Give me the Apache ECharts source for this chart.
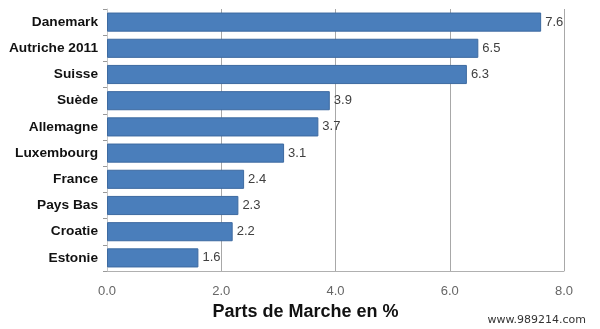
<!DOCTYPE html>
<html><head><meta charset="utf-8">
<script src="https://cdn.jsdelivr.net/npm/echarts@6/dist/echarts.min.js"></script>
<style>html,body{margin:0;padding:0;background:#fff}#c{width:600px;height:329px}</style>
</head><body><div id="c"></div>
<script>
const categories = ["Danemark","Autriche 2011","Suisse","Suède","Allemagne","Luxembourg","France","Pays Bas","Croatie","Estonie"];
const values = [7.6,6.5,6.3,3.9,3.7,3.1,2.4,2.3,2.2,1.6];
const xTicks = [0,2,4,6,8];
const axisTitle = "Parts de Marche en %";
const watermark = "www.989214.com";

const chart = echarts.init(document.getElementById('c'), null, {renderer:'canvas'});
chart.setOption({
  animation:false,
  grid:{left:107, right:36, top:9, bottom:58},
  xAxis:{type:'value', min:xTicks[0], max:xTicks[xTicks.length-1], interval:2,
    axisLine:{show:true,lineStyle:{color:'#b0b0b0'}},
    axisTick:{show:false},
    splitLine:{show:true,lineStyle:{color:'#a8a8a8',width:1}},
    axisLabel:{formatter:v=>v.toFixed(1), color:'#666', fontSize:13, fontFamily:'Liberation Sans', margin:14},
    name:axisTitle, nameLocation:'middle', nameGap:32,
    nameTextStyle:{fontSize:18,fontWeight:'bold',color:'#111',fontFamily:'Liberation Sans', padding:[0,0,0,-60]}
  },
  yAxis:{type:'category', data:categories, inverse:true,
    axisLine:{show:true,lineStyle:{color:'#c8c8c8'}},
    axisTick:{show:true,length:4,lineStyle:{color:'#999'}},
    axisLabel:{color:'#111', fontSize:13.7, fontWeight:'bold', fontFamily:'Liberation Sans', margin:9}
  },
  series:[{type:'bar', data:values, barCategoryGap:'27%',
    itemStyle:{color:'#4a7ebb', borderColor:'#3d6aa0', borderWidth:1},
    label:{show:true, position:'right', formatter:p=>p.value.toFixed(1), color:'#404040', fontSize:13, fontFamily:'Liberation Sans', distance:4}
  }],
  graphic:[{type:'text', right:14, bottom:3, style:{text:watermark, fontSize:11, fill:'#333', fontFamily:'DejaVu Sans'}}]
});
</script></body></html>
